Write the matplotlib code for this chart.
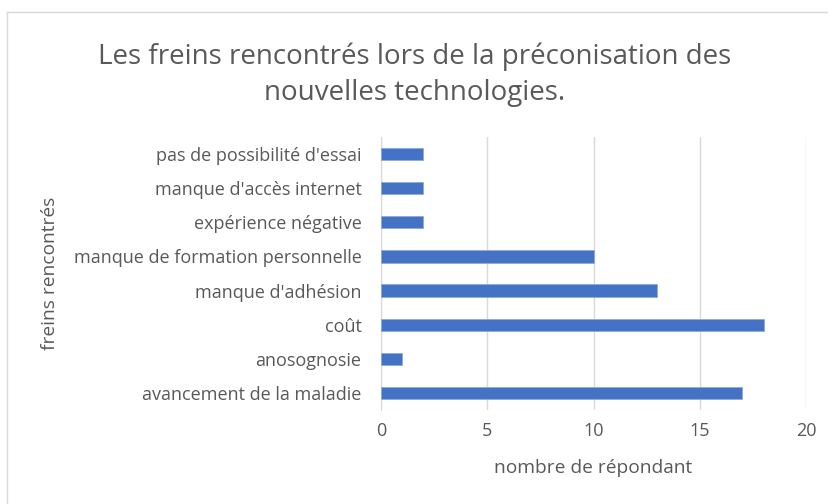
import matplotlib.pyplot as plt
from matplotlib.lines import Line2D

# Freins rencontrés (bottom to top, as drawn)
categories = ["avancement de la maladie", "anosognosie", "coût",
              "manque d'adhésion", "manque de formation personnelle",
              "expérience négative", "manque d'accès internet",
              "pas de possibilité d'essai"]
values = [17, 1, 18, 13, 10, 2, 2, 2]
x_ticks = [0, 5, 10, 15, 20]

plt.rcParams['font.family'] = ['Open Sans', 'DejaVu Sans']
text_col = '#595959'

fig = plt.figure(figsize=(8.29, 5.04), dpi=100)
ax = fig.add_axes([381/829, 1 - 410/504, 425/829, 273/504])

ax.barh(range(len(categories)), values, height=0.36, color='#4472C4',
        edgecolor='#8FAADC', linewidth=0.6, zorder=3)

ax.set_xlim(0, 20)
ax.set_ylim(-0.5, len(categories) - 0.5)
ax.set_xticks(x_ticks)
ax.set_yticks(range(len(categories)))
ax.set_yticklabels(categories)
ax.tick_params(axis='both', length=0, colors=text_col, labelsize=13)
ax.tick_params(axis='x', pad=9)
ax.tick_params(axis='y', pad=14)
ax.grid(axis='x', color='#D9D9D9', linewidth=1, zorder=0)
for s in ['top', 'right', 'bottom']:
    ax.spines[s].set_visible(False)
ax.spines['left'].set_color('#D9D9D9')

# axis titles
fig.text(593.5/829, 1 - 468/504, 'nombre de répondant', ha='center', va='center',
         color=text_col, fontsize=13.8)
fig.text(50/829, 1 - 273/504, 'freins rencontrés', ha='center', va='center',
         rotation=90, color=text_col, fontsize=13.8)

fig.text(0.5, 1 - 75/504, 'Les freins rencontrés lors de la préconisation des\nnouvelles technologies.',
         ha='center', va='center', fontsize=20, color=text_col, linespacing=1.4)

# chart frame (top and left edges only visible)
fig.add_artist(Line2D([7/829, 1], [1 - 12/504, 1 - 12/504], color='#D9D9D9', lw=1))
fig.add_artist(Line2D([7/829, 7/829], [0, 1 - 12/504], color='#D9D9D9', lw=1))

plt.savefig('out.png', dpi=100)
